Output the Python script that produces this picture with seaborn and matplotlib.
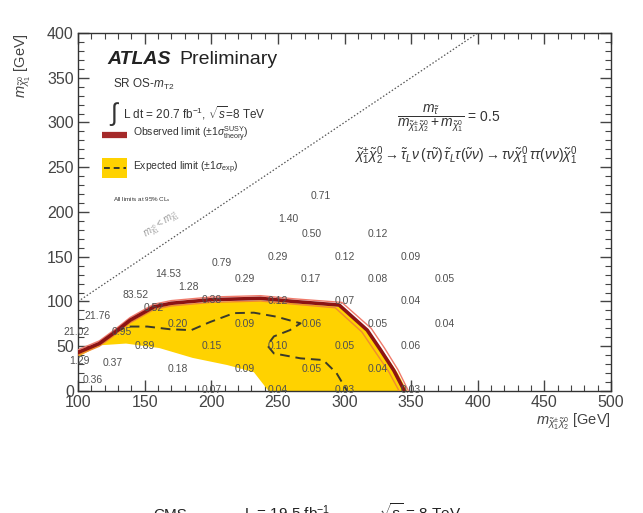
import numpy as np
import matplotlib
matplotlib.use("Agg")
import matplotlib.pyplot as plt
from matplotlib.ticker import MultipleLocator
import seaborn as sns

sns.set_theme(style="ticks")
plt.rcParams["font.family"] = ["Liberation Sans", "DejaVu Sans"]
plt.rcParams["mathtext.fontset"] = "custom"
plt.rcParams["mathtext.rm"] = "Liberation Sans"
plt.rcParams["mathtext.it"] = "Liberation Sans:italic"
plt.rcParams["mathtext.bf"] = "Liberation Sans:bold"

# Observed 95% CL exclusion contour and its theory +-1 sigma variations
obs_x = [100, 116, 128, 139, 157, 170, 200, 237, 262, 296, 317, 327, 337, 345]
obs_y = [43, 53, 66, 79, 94, 98, 102, 103.5, 100, 96, 68, 46, 23, 0]
obs_up_x = [100, 116, 128, 139, 157, 170, 200, 237, 262, 298, 320, 330, 340, 348]
obs_up_y = [46, 56, 69, 82, 97, 101, 105, 106.5, 103, 99, 70, 48, 24, 0]
obs_dn_x = [100, 116, 128, 139, 157, 170, 200, 237, 262, 293, 313, 323, 333, 341]
obs_dn_y = [40, 50, 63, 76, 91, 95, 99, 100.5, 97, 93, 66, 44, 22, 0]

# Expected contour
exp_x = [128, 137, 152, 169, 185, 199, 217, 232, 249, 267, 259, 247, 242, 247, 267, 284, 294, 302]
exp_y = [66, 72, 72, 69, 68, 77, 87, 87.5, 83, 75.6, 68, 61, 51, 42, 36.5, 34.6, 20, 0]

# Expected +-1 sigma band: upper edge then lower edge
band_hi_x = [100, 116, 128, 139, 157, 170, 200, 237, 262, 296, 318, 330, 340, 347]
band_hi_y = [44, 53, 65, 77, 92, 96, 99, 101, 98, 94, 65, 42, 20, 0]
band_lo_x = [243, 232, 212, 186, 161, 136, 116, 100]
band_lo_y = [0, 21, 29, 37, 48, 53, 51, 38]

# Upper limits on the cross section at each signal grid point [pb]
pt_x = [282, 258, 275, 325, 250, 300, 350, 208, 167.5, 183, 225, 275, 325, 375,
        143, 157, 200, 250, 300, 350, 115, 175, 225, 275, 325, 375, 99, 133,
        150, 200, 250, 300, 350, 101, 126, 175, 225, 275, 325, 111,
        200, 250, 300, 350]
pt_y = [218, 192, 175, 175, 150, 150, 150, 143, 131, 116, 125, 125, 125, 125,
        107, 93, 102, 100, 100, 100, 84, 75, 75, 75, 75, 75, 66, 66,
        50, 50, 50, 50, 50, 33, 31, 25, 25, 25, 25, 12,
        1, 1, 1, 1]
pt_lab = ["0.71", "1.40", "0.50", "0.12", "0.29", "0.12", "0.09", "0.79", "14.53", "1.28",
          "0.29", "0.17", "0.08", "0.05", "83.52", "0.52", "0.38", "0.12", "0.07", "0.04",
          "21.76", "0.20", "0.09", "0.06", "0.05", "0.04", "21.02", "0.95",
          "0.89", "0.15", "0.10", "0.05", "0.06", "1.29", "0.37", "0.18", "0.09", "0.05",
          "0.04", "0.36", "0.07", "0.04", "0.03", "0.03"]

fig = plt.figure(figsize=(6.43, 5.13), dpi=100)
ax = fig.add_axes([0.1213, 0.2378, 0.829, 0.698])

gold = "#ffd200"
ax.fill(band_hi_x + band_lo_x, band_hi_y + band_lo_y, color=gold, lw=0, zorder=1)

sns.lineplot(x=obs_up_x, y=obs_up_y, sort=False, estimator=None, ax=ax,
             color="#f07a6a", lw=1.0, zorder=3)
sns.lineplot(x=obs_dn_x, y=obs_dn_y, sort=False, estimator=None, ax=ax,
             color="#f08a30", lw=1.0, zorder=3)
sns.lineplot(x=obs_x, y=obs_y, sort=False, estimator=None, ax=ax,
             color="#8c1414", lw=2.6, zorder=4)
sns.lineplot(x=exp_x, y=exp_y, sort=False, estimator=None, ax=ax,
             color="#3a3a2a", lw=1.4, ls=(0, (5, 3)), zorder=3)

# kinematic boundary
sns.lineplot(x=[100, 400], y=[100, 400], ax=ax, color="#555555", lw=0.9,
             ls=(0, (1.2, 1.6)), zorder=2)

for x, y, s in zip(pt_x, pt_y, pt_lab):
    ax.text(x, y, s, fontsize=7.5, color="#505050", ha="center", va="center", zorder=5)

ax.set_xlim(100, 500)
ax.set_ylim(0, 400)
ax.xaxis.set_major_locator(MultipleLocator(50))
ax.yaxis.set_major_locator(MultipleLocator(50))
ax.xaxis.set_minor_locator(MultipleLocator(10))
ax.yaxis.set_minor_locator(MultipleLocator(10))
ax.tick_params(which="both", direction="in", top=True, right=True, labelsize=11.5,
               colors="#444444")
ax.tick_params(which="major", length=8, width=1, pad=3)
ax.tick_params(which="minor", length=4, width=0.8)
for sp in ax.spines.values():
    sp.set_color("#333333")
    sp.set_linewidth(1.0)

ax.set_xlabel(r"$m_{\tilde{\chi}_1^{\pm}\tilde{\chi}_2^{0}}$ [GeV]", fontsize=10.5,
              ha="right", x=1.0, labelpad=1, color="#444444")
ax.set_ylabel(r"$m_{\tilde{\chi}_1^{0}}$ [GeV]", fontsize=10.5, ha="right", y=1.0,
              labelpad=10, color="#444444")

tr = ax.transAxes
ax.text(0.055, 0.925, "ATLAS", transform=tr, fontsize=14, fontweight="bold",
        style="italic", color="#222222", va="center")
ax.text(0.19, 0.925, "Preliminary", transform=tr, fontsize=14, color="#222222",
        va="center")
ax.text(0.065, 0.855, r"SR OS-$m_{\mathrm{T2}}$", transform=tr, fontsize=8.5,
        color="#333333", va="center")
ax.text(0.058, 0.775, r"$\int$", transform=tr, fontsize=18, color="#333333", va="center")
ax.text(0.085, 0.775, r"L dt = 20.7 fb$^{-1}$, $\sqrt{s}$=8 TeV", transform=tr,
        fontsize=8.5, color="#333333", va="center")

# legend entries
ax.plot([0.045, 0.092], [0.716, 0.716], transform=tr, color="#a52a2a", lw=4.5,
        solid_capstyle="butt")
ax.text(0.103, 0.716, r"Observed limit ($\pm1\sigma^{\mathrm{SUSY}}_{\mathrm{theory}}$)",
        transform=tr, fontsize=7.5, color="#333333", va="center")
ax.fill([0.045, 0.092, 0.092, 0.045], [0.652, 0.652, 0.595, 0.595], transform=tr,
        color=gold, lw=0)
ax.plot([0.048, 0.090], [0.624, 0.624], transform=tr, color="#3a3a2a", lw=1.4,
        ls=(0, (3, 2)))
ax.text(0.103, 0.624, r"Expected limit ($\pm1\sigma_{\mathrm{exp}}$)", transform=tr,
        fontsize=7.5, color="#333333", va="center")

ax.text(126, 214, r"All limits at 95% CL$_s$", fontsize=4.5, color="#333333",
        va="center")
ax.text(163, 186, r"$m_{\tilde{\chi}_1^0} < m_{\tilde{\chi}_1^{\pm}}$", fontsize=7,
        color="#999999", rotation=34, ha="center", va="center")

ax.text(378, 305, r"$\dfrac{m_{\tilde{\tau}}}{m_{\tilde{\chi}_1^{\pm}\tilde{\chi}_2^{0}}+m_{\tilde{\chi}_1^{0}}}$ = 0.5",
        fontsize=10, color="#333333", ha="center", va="center")
ax.text(391, 263, r"$\tilde{\chi}_1^{\pm}\tilde{\chi}_2^0\rightarrow\tilde{\tau}_L\nu\,(\tau\tilde{\nu})\,\tilde{\tau}_L\tau(\tilde{\nu}\nu)\rightarrow\tau\nu\tilde{\chi}_1^0\,\tau\tau(\nu\nu)\tilde{\chi}_1^0$",
        fontsize=10, color="#333333", ha="center", va="center")

fig.text(0.238, -0.012, "CMS", fontsize=11, color="#222222", va="baseline")
fig.text(0.38, -0.012, r"L = 19.5 fb$^{-1}$,", fontsize=11, color="#222222",
         va="baseline")
fig.text(0.59, -0.012, r"$\sqrt{s}$ = 8 TeV", fontsize=11, color="#222222",
         va="baseline")

fig.savefig("out.png", dpi=100)
